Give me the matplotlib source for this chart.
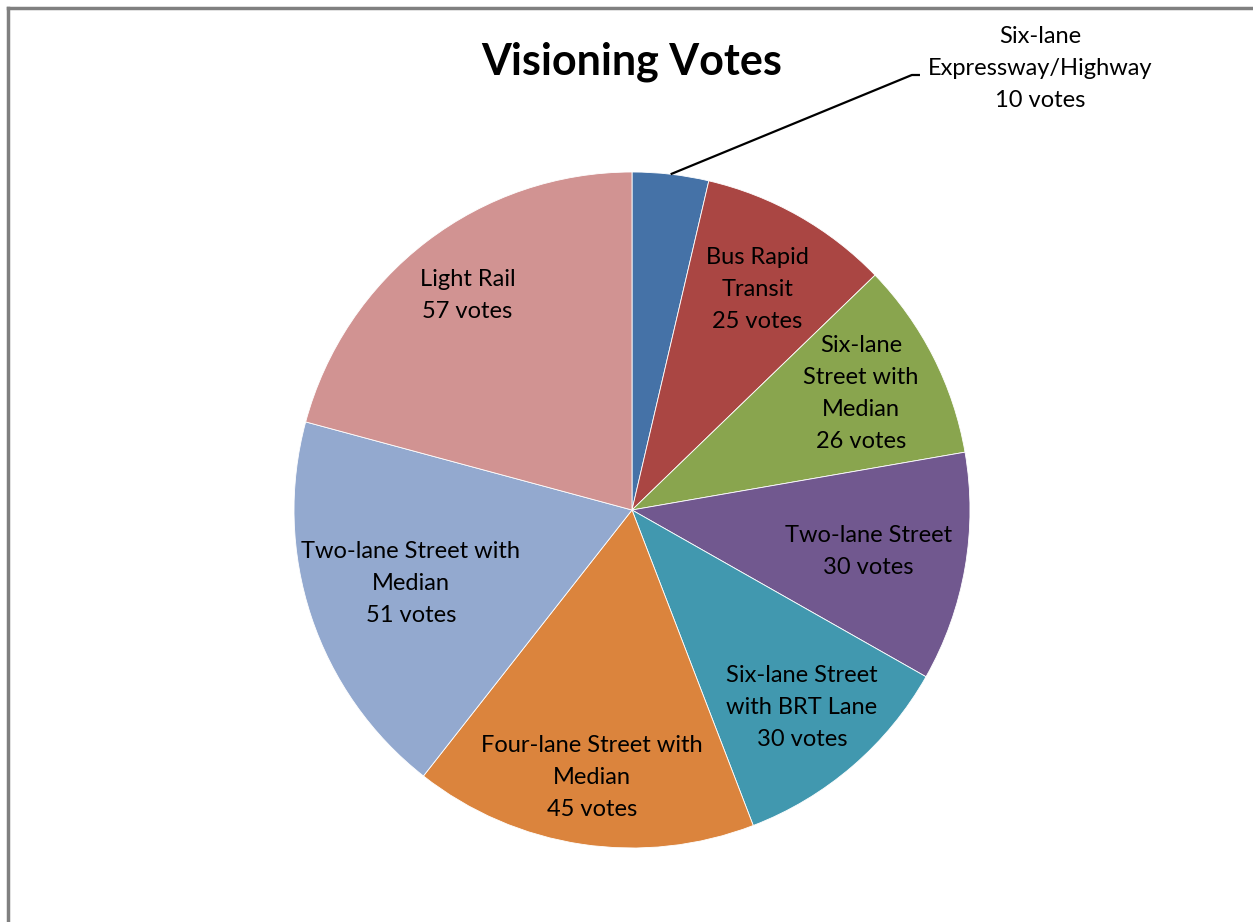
import numpy as np
import matplotlib
matplotlib.use('Agg')
import matplotlib.pyplot as plt

plt.rcParams['font.family'] = ['Lato', 'DejaVu Sans']

labels = ['Six-lane\nExpressway/Highway', 'Bus Rapid\nTransit', 'Six-lane\nStreet with\nMedian',
          'Two-lane Street', 'Six-lane Street\nwith BRT Lane', 'Four-lane Street with\nMedian',
          'Two-lane Street with\nMedian', 'Light Rail']
votes = [10, 25, 26, 30, 30, 45, 51, 57]
colors = ['#4572A7', '#AA4643', '#89A54E', '#71588F', '#4198AF', '#DB843D', '#93A9CF', '#D19392']
# radial spot of each label, as fraction of radius
label_r = [None, 0.75, 0.76, 0.71, 0.77, 0.80, 0.69, 0.80]

W, H = 1253, 922
fig = plt.figure(figsize=(W/100, H/100), dpi=100)
cx, cy, R = 632, 510, 338
ax = fig.add_axes([(cx-R)/W, (H-cy-R)/H, 2*R/W, 2*R/H])
wedges, _ = ax.pie(votes, colors=colors, startangle=90, counterclock=False,
                   wedgeprops=dict(edgecolor='white', linewidth=0.6))
ax.set_xlim(-1, 1)
ax.set_ylim(-1, 1)
ax.set_aspect('equal')
ax.axis('off')

fs = 17
ls = 1.65
for i, w in enumerate(wedges):
    mid = np.deg2rad((w.theta1 + w.theta2) / 2)
    txt = labels[i] + '\n' + str(votes[i]) + ' votes'
    if label_r[i] is None:
        # outside label with leader line
        x0, y0 = np.cos(mid), np.sin(mid)
        ax.plot([x0, 0.828, 0.852], [y0, 1.287, 1.287], color='black', lw=1.6,
                clip_on=False, solid_capstyle='butt')
        ax.text(1.207, 1.305, txt, ha='center', va='center', fontsize=fs,
                linespacing=ls)
    else:
        r = label_r[i]
        ax.text(r*np.cos(mid), r*np.sin(mid), txt, ha='center', va='center',
                fontsize=fs, linespacing=ls)

fig.text(632/W, 1 - 62/H, 'Visioning Votes', ha='center', va='center',
         fontsize=31, fontweight='bold')

# chart frame (only top and left show)
fig.add_artist(plt.Line2D([8/W, 8/W], [0, 1 - 8/H], color='#808080', lw=2.5))
fig.add_artist(plt.Line2D([8/W, 1], [1 - 8/H, 1 - 8/H], color='#808080', lw=2.5))

fig.savefig('out.png', dpi=100)
